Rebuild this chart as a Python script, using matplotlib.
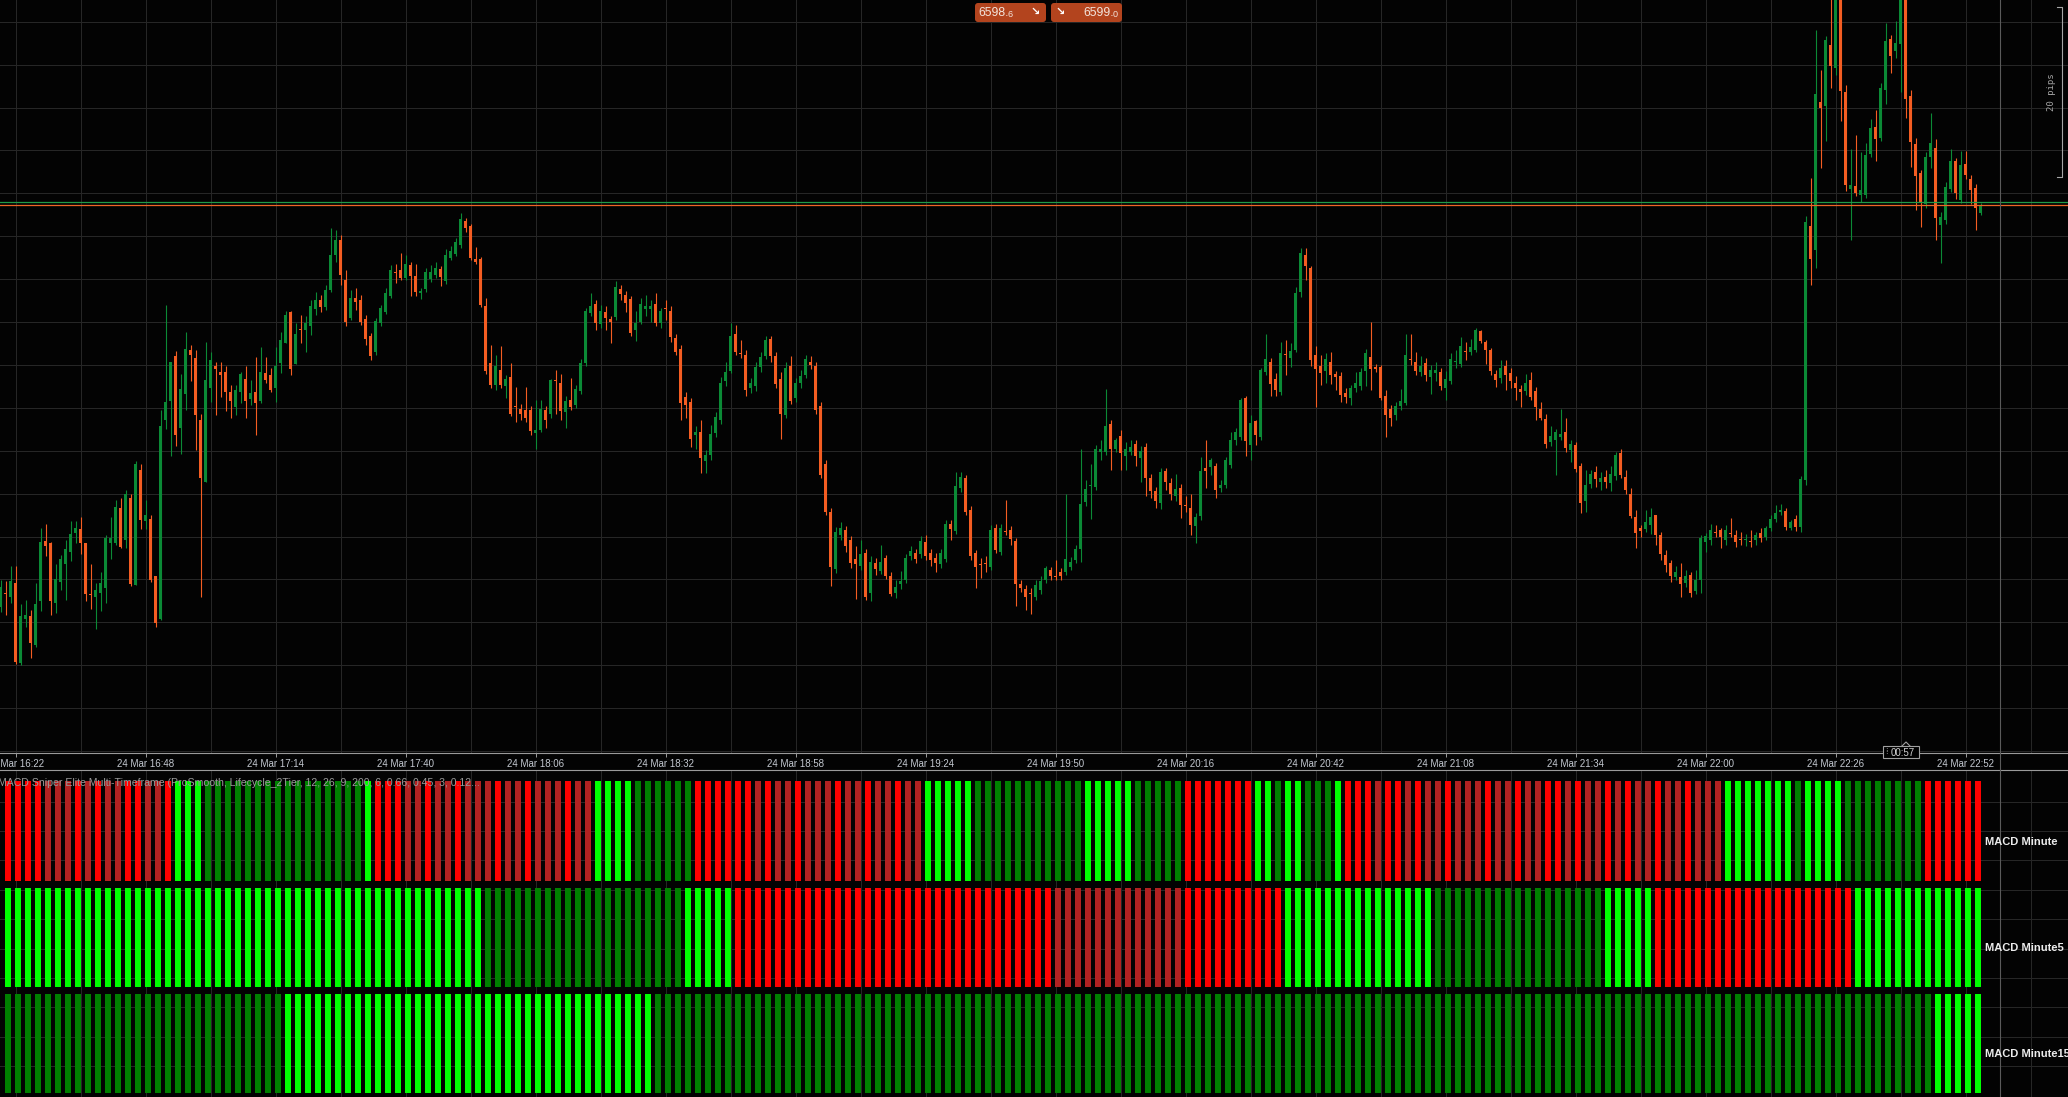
import matplotlib
matplotlib.use("Agg")
import matplotlib.pyplot as plt
from matplotlib.patches import FancyBboxPatch, Rectangle
from matplotlib.ticker import MultipleLocator
import numpy as np

# ---- 1-minute candles, 24 Mar, first candle at 16:19 ----
first_candle = "16:19"
opens = [
    6551.8, 6553.4, 6553.0, 6554.6, 6545.3, 6550.4, 6550.7, 6547.4, 6552.5, 6559.5,
    6559.2, 6552.3, 6554.7, 6556.8, 6558.2, 6560.4, 6560.9, 6559.2, 6553.3, 6553.0,
    6553.4, 6554.0, 6559.2, 6559.2, 6563.3, 6559.6, 6564.5, 6554.4, 6567.8, 6561.8,
    6562.0, 6555.4, 6550.4, 6573.6, 6575.8, 6581.0, 6572.7, 6576.6, 6581.7, 6580.8,
    6573.6, 6566.4, 6577.3, 6579.9, 6579.2, 6579.2, 6576.8, 6575.1, 6576.8, 6578.4,
    6576.0, 6576.8, 6575.8, 6579.1, 6578.8, 6577.3, 6580.2, 6582.6, 6586.2, 6580.1,
    6584.2, 6584.1, 6584.5, 6586.5, 6587.6, 6586.8, 6588.7, 6592.8, 6594.6, 6589.9,
    6585.5, 6587.8, 6587.6, 6585.4, 6583.4, 6581.5, 6584.9, 6586.2, 6588.0, 6590.8,
    6591.1, 6590.1, 6591.6, 6590.4, 6588.4, 6588.9, 6590.0, 6590.5, 6591.2, 6589.8,
    6592.5, 6592.9, 6594.0, 6596.8, 6596.2, 6592.3, 6592.3, 6586.9, 6580.2, 6577.7,
    6579.4, 6577.5, 6578.6, 6575.2, 6574.9, 6574.7, 6574.7, 6572.1, 6572.4, 6574.7,
    6574.3, 6578.2, 6577.9, 6574.5, 6575.9, 6575.3, 6577.0, 6580.2, 6586.1, 6587.1,
    6584.8, 6586.2, 6585.4, 6585.6, 6588.9, 6588.2, 6587.7, 6584.1, 6585.0, 6586.5,
    6586.5, 6587.1, 6584.9, 6586.6, 6586.3, 6583.1, 6581.9, 6576.3, 6575.7, 6571.8,
    6572.2, 6568.8, 6569.5, 6572.1, 6573.6, 6578.1, 6579.3, 6583.6, 6581.4, 6581.2,
    6577.3, 6577.5, 6579.8, 6581.0, 6583.0, 6581.0, 6578.4, 6574.2, 6579.9, 6576.1,
    6577.9, 6578.8, 6580.3, 6579.9, 6575.2, 6568.5, 6562.9, 6556.2, 6560.2, 6560.8,
    6559.6, 6557.4, 6556.6, 6558.1, 6553.4, 6556.9, 6556.0, 6557.5, 6555.4, 6553.4,
    6554.5, 6554.9, 6557.7, 6558.1, 6558.0, 6559.4, 6558.1, 6557.5, 6556.8, 6557.4,
    6561.5, 6560.6, 6565.6, 6566.8, 6563.1, 6558.1, 6556.8, 6556.9, 6556.4, 6561.0,
    6558.2, 6560.6, 6560.8, 6559.5, 6554.5, 6553.9, 6553.4, 6553.0, 6553.8, 6554.9,
    6556.1, 6555.4, 6555.9, 6555.9, 6556.4, 6557.3, 6558.5, 6564.0, 6565.9, 6565.8,
    6569.9, 6569.9, 6573.1, 6570.2, 6571.7, 6569.4, 6569.9, 6570.8, 6569.2, 6570.4,
    6566.8, 6565.3, 6563.9, 6567.6, 6566.2, 6564.7, 6565.6, 6563.6, 6563.3, 6561.2,
    6562.4, 6568.0, 6568.1, 6568.2, 6565.6, 6566.0, 6568.3, 6571.2, 6571.6, 6576.1,
    6570.7, 6573.5, 6571.6, 6579.2, 6580.3, 6578.4, 6576.8, 6581.2, 6580.8, 6581.7,
    6588.5, 6592.8, 6591.3, 6581.2, 6579.9, 6579.3, 6580.3, 6578.9, 6578.7, 6576.7,
    6576.2, 6577.3, 6577.5, 6579.3, 6580.9, 6579.8, 6579.8, 6576.4, 6574.9, 6574.2,
    6575.2, 6575.6, 6580.7, 6580.3, 6579.2, 6580.2, 6578.6, 6579.1, 6579.2, 6577.3,
    6578.1, 6580.3, 6580.1, 6581.6, 6581.5, 6581.7, 6583.9, 6582.7, 6581.7, 6578.9,
    6578.5, 6579.9, 6579.1, 6577.9, 6577.2, 6577.0, 6578.2, 6577.0, 6574.9, 6573.7,
    6571.0, 6571.3, 6571.6, 6572.2, 6570.1, 6570.7, 6568.2, 6564.1, 6566.1, 6567.5,
    6566.4, 6566.9, 6566.2, 6567.0, 6569.7, 6566.9, 6565.0, 6562.3, 6561.0, 6560.9,
    6561.3, 6562.5, 6560.2, 6557.9, 6556.9, 6555.3, 6555.3, 6554.6, 6555.5, 6553.7,
    6554.9, 6559.4, 6559.6, 6560.5, 6560.8, 6559.6, 6560.4, 6560.2, 6559.7, 6559.6,
    6559.5, 6559.6, 6560.4, 6559.9, 6561.0, 6562.0, 6562.9, 6563.0, 6561.0, 6562.0,
    6561.1, 6566.6, 6596.2, 6593.4, 6610.6, 6610.2, 6617.3, 6614.6, 6623.7, 6611.8,
    6600.5, 6600.9, 6599.8, 6599.8, 6604.6, 6607.7, 6606.4, 6612.0, 6618.0, 6616.6,
    6617.4, 6623.5, 6611.3, 6605.7, 6602.4, 6598.8, 6604.2, 6605.3, 6596.3, 6596.9,
    6600.5, 6603.8, 6599.2, 6603.4, 6601.7, 6600.6, 6597.7,
]
highs = [
    6554.9, 6554.8, 6556.6, 6556.6, 6552.1, 6552.6, 6551.4, 6554.6, 6561.0, 6561.5,
    6559.4, 6556.8, 6557.9, 6559.6, 6561.8, 6561.8, 6562.3, 6559.2, 6556.8, 6554.6,
    6555.9, 6560.2, 6562.3, 6564.3, 6564.5, 6565.4, 6565.0, 6568.8, 6568.5, 6564.3,
    6562.5, 6555.4, 6574.7, 6587.0, 6580.3, 6581.6, 6578.9, 6583.8, 6582.3, 6581.7,
    6574.3, 6582.7, 6581.5, 6580.3, 6580.3, 6579.9, 6577.7, 6577.7, 6579.2, 6579.9,
    6578.2, 6580.9, 6582.1, 6580.9, 6579.6, 6582.1, 6583.8, 6586.3, 6586.3, 6584.9,
    6585.8, 6585.7, 6587.6, 6588.5, 6588.2, 6589.3, 6596.0, 6595.7, 6595.1, 6591.1,
    6588.7, 6589.0, 6588.2, 6585.8, 6583.7, 6585.5, 6587.0, 6589.0, 6591.6, 6591.8,
    6593.0, 6592.8, 6592.0, 6591.8, 6589.0, 6591.3, 6591.6, 6592.0, 6591.5, 6593.5,
    6593.9, 6594.8, 6597.7, 6597.1, 6596.4, 6593.7, 6592.6, 6587.8, 6582.3, 6581.2,
    6582.2, 6578.8, 6580.2, 6577.4, 6575.4, 6577.4, 6575.2, 6575.9, 6575.9, 6575.2,
    6578.4, 6579.4, 6578.9, 6576.4, 6578.5, 6577.7, 6580.7, 6586.6, 6588.4, 6587.6,
    6587.0, 6586.9, 6585.7, 6589.8, 6589.3, 6588.6, 6588.0, 6586.3, 6587.8, 6588.2,
    6587.6, 6588.4, 6586.6, 6587.6, 6586.9, 6583.6, 6582.3, 6576.8, 6576.1, 6572.9,
    6573.6, 6570.1, 6573.0, 6574.5, 6578.6, 6580.3, 6584.9, 6584.7, 6582.9, 6581.7,
    6578.5, 6580.3, 6581.5, 6583.4, 6583.4, 6581.5, 6579.2, 6580.3, 6581.0, 6578.5,
    6579.4, 6581.2, 6581.0, 6580.3, 6575.7, 6568.9, 6563.3, 6561.1, 6561.7, 6561.2,
    6560.1, 6558.9, 6559.6, 6558.6, 6557.7, 6557.5, 6559.0, 6557.9, 6555.9, 6554.9,
    6556.0, 6558.0, 6558.9, 6558.6, 6560.1, 6560.2, 6558.6, 6558.1, 6558.6, 6561.9,
    6561.9, 6567.5, 6567.5, 6567.2, 6563.6, 6558.4, 6557.5, 6557.7, 6561.3, 6561.5,
    6561.5, 6564.3, 6561.2, 6559.8, 6554.9, 6554.4, 6554.0, 6554.9, 6555.4, 6556.6,
    6556.5, 6557.3, 6556.3, 6565.0, 6557.6, 6559.0, 6570.2, 6566.6, 6568.5, 6570.7,
    6571.2, 6577.2, 6573.6, 6571.5, 6572.4, 6571.0, 6571.2, 6571.2, 6570.6, 6570.9,
    6567.3, 6565.8, 6568.0, 6568.0, 6566.8, 6567.3, 6566.1, 6564.7, 6564.9, 6562.7,
    6569.3, 6571.2, 6569.2, 6568.6, 6566.6, 6569.3, 6572.2, 6572.7, 6576.1, 6576.4,
    6574.2, 6573.6, 6579.6, 6583.6, 6580.8, 6579.1, 6582.7, 6582.9, 6582.6, 6589.1,
    6593.6, 6593.6, 6591.5, 6582.2, 6581.2, 6581.4, 6581.5, 6579.3, 6579.2, 6577.3,
    6577.7, 6579.2, 6579.6, 6581.9, 6585.0, 6580.1, 6580.0, 6577.1, 6575.3, 6575.7,
    6577.2, 6583.6, 6583.6, 6581.5, 6581.0, 6580.8, 6580.0, 6580.3, 6579.6, 6579.3,
    6581.4, 6581.7, 6583.2, 6582.7, 6583.0, 6584.3, 6584.1, 6582.9, 6582.0, 6579.4,
    6580.6, 6580.6, 6579.6, 6578.7, 6577.7, 6578.9, 6579.2, 6577.4, 6575.7, 6574.3,
    6572.9, 6572.5, 6574.9, 6573.8, 6571.2, 6571.0, 6568.6, 6567.8, 6567.8, 6568.2,
    6567.5, 6567.8, 6568.2, 6569.9, 6570.2, 6567.8, 6565.6, 6563.1, 6561.3, 6563.1,
    6563.3, 6562.5, 6560.5, 6558.4, 6557.3, 6556.6, 6556.9, 6556.1, 6555.9, 6556.1,
    6560.2, 6560.4, 6561.5, 6561.3, 6561.0, 6561.3, 6562.2, 6560.8, 6560.5, 6560.3,
    6560.8, 6560.5, 6561.0, 6561.2, 6562.5, 6563.7, 6563.8, 6563.3, 6561.9, 6562.5,
    6567.0, 6597.4, 6601.8, 6619.0, 6614.4, 6618.3, 6623.5, 6624.9, 6625.4, 6612.6,
    6605.2, 6606.8, 6604.8, 6605.9, 6608.7, 6609.7, 6612.9, 6619.9, 6618.4, 6620.1,
    6624.9, 6624.3, 6612.0, 6606.4, 6602.7, 6604.8, 6609.4, 6606.3, 6597.8, 6601.3,
    6605.2, 6604.1, 6604.9, 6604.9, 6602.1, 6601.1, 6598.9,
]
lows = [
    6551.2, 6550.9, 6552.3, 6545.1, 6545.0, 6549.5, 6545.8, 6547.1, 6551.3, 6557.7,
    6550.9, 6551.1, 6553.8, 6552.6, 6557.2, 6559.2, 6558.0, 6552.5, 6551.6, 6549.2,
    6551.3, 6552.3, 6557.4, 6559.0, 6558.7, 6558.7, 6554.2, 6554.4, 6560.9, 6560.9,
    6554.7, 6549.5, 6550.3, 6572.5, 6569.4, 6570.6, 6569.6, 6574.7, 6578.1, 6570.1,
    6553.0, 6566.4, 6575.7, 6574.2, 6576.3, 6574.6, 6573.8, 6574.2, 6575.6, 6573.8,
    6575.3, 6571.8, 6575.6, 6577.9, 6576.8, 6575.7, 6579.1, 6582.6, 6578.8, 6580.1,
    6582.6, 6581.5, 6583.5, 6585.8, 6586.2, 6586.4, 6588.5, 6592.0, 6589.3, 6584.5,
    6585.2, 6586.4, 6584.7, 6582.3, 6580.6, 6581.2, 6584.5, 6585.9, 6587.8, 6589.6,
    6589.9, 6589.9, 6588.0, 6588.0, 6587.7, 6588.5, 6589.7, 6590.1, 6589.2, 6589.4,
    6592.2, 6592.7, 6593.6, 6595.5, 6592.2, 6591.8, 6586.8, 6578.9, 6577.3, 6577.1,
    6577.3, 6576.1, 6574.0, 6573.4, 6573.6, 6573.4, 6571.8, 6570.2, 6572.2, 6572.7,
    6573.8, 6574.3, 6573.6, 6572.7, 6574.7, 6575.0, 6576.6, 6579.9, 6585.7, 6584.1,
    6584.3, 6584.1, 6582.6, 6585.2, 6587.6, 6586.2, 6583.4, 6582.8, 6584.8, 6585.7,
    6585.0, 6584.5, 6584.3, 6585.2, 6582.7, 6581.2, 6573.6, 6573.8, 6570.4, 6570.2,
    6567.4, 6567.4, 6568.9, 6571.6, 6573.1, 6577.5, 6579.1, 6581.2, 6580.8, 6576.4,
    6576.7, 6577.0, 6579.2, 6580.7, 6580.3, 6577.3, 6571.4, 6573.8, 6575.4, 6575.7,
    6577.3, 6578.5, 6579.5, 6574.3, 6566.8, 6562.5, 6554.2, 6555.8, 6559.6, 6558.2,
    6556.3, 6552.7, 6556.1, 6552.6, 6552.5, 6555.5, 6555.6, 6555.1, 6553.1, 6552.8,
    6553.9, 6554.6, 6557.3, 6556.9, 6557.5, 6557.3, 6556.6, 6555.9, 6556.3, 6557.0,
    6559.6, 6560.3, 6565.2, 6562.5, 6557.3, 6554.0, 6555.2, 6555.9, 6556.1, 6558.1,
    6557.9, 6560.2, 6559.0, 6551.9, 6553.5, 6551.4, 6551.0, 6552.6, 6553.3, 6554.6,
    6554.9, 6554.9, 6554.9, 6555.5, 6556.1, 6556.9, 6557.0, 6563.6, 6562.0, 6565.4,
    6568.9, 6569.5, 6567.8, 6569.9, 6567.8, 6567.8, 6569.5, 6568.2, 6566.4, 6564.7,
    6564.5, 6563.3, 6563.2, 6565.4, 6564.3, 6564.1, 6562.2, 6562.9, 6560.2, 6559.2,
    6561.9, 6565.6, 6567.2, 6564.5, 6565.2, 6565.6, 6568.0, 6570.7, 6571.2, 6569.4,
    6568.9, 6570.7, 6571.2, 6578.8, 6576.4, 6576.4, 6576.5, 6578.8, 6579.8, 6581.5,
    6587.9, 6589.9, 6579.9, 6575.1, 6577.7, 6577.9, 6577.8, 6577.1, 6575.7, 6575.6,
    6575.3, 6576.8, 6577.1, 6577.5, 6577.1, 6579.2, 6575.9, 6571.6, 6572.9, 6573.6,
    6574.7, 6575.3, 6580.0, 6578.8, 6578.7, 6578.1, 6576.6, 6578.1, 6577.1, 6575.9,
    6577.8, 6579.6, 6579.8, 6580.6, 6581.2, 6581.5, 6582.6, 6580.1, 6578.8, 6577.4,
    6577.9, 6577.1, 6577.3, 6575.9, 6575.1, 6576.5, 6575.9, 6573.6, 6573.6, 6570.3,
    6570.6, 6567.2, 6571.2, 6569.9, 6568.7, 6567.5, 6562.7, 6562.9, 6565.6, 6565.8,
    6565.4, 6565.6, 6565.3, 6566.6, 6566.8, 6564.9, 6562.2, 6558.7, 6560.0, 6560.5,
    6560.3, 6559.0, 6557.3, 6555.9, 6554.7, 6554.9, 6553.0, 6554.1, 6553.0, 6553.3,
    6553.4, 6558.2, 6559.0, 6559.9, 6558.7, 6559.0, 6559.9, 6558.8, 6559.0, 6558.9,
    6558.8, 6559.0, 6559.4, 6559.6, 6560.6, 6561.7, 6562.5, 6560.8, 6560.8, 6560.6,
    6560.5, 6566.0, 6589.3, 6591.3, 6603.0, 6606.1, 6612.3, 6613.8, 6608.4, 6600.3,
    6594.6, 6599.7, 6599.0, 6599.4, 6604.2, 6603.8, 6606.1, 6610.4, 6614.0, 6615.8,
    6611.8, 6608.8, 6603.1, 6598.1, 6596.1, 6598.3, 6603.0, 6594.6, 6591.9, 6596.4,
    6600.2, 6599.3, 6598.9, 6601.7, 6598.8, 6595.7, 6597.5,
]
closes = [
    6554.1, 6553.3, 6554.8, 6545.4, 6550.7, 6550.9, 6547.6, 6552.1, 6559.4, 6558.9,
    6552.5, 6555.1, 6557.4, 6558.6, 6560.3, 6561.0, 6559.2, 6553.3, 6553.2, 6553.8,
    6554.6, 6559.8, 6559.8, 6563.4, 6558.8, 6565.0, 6554.5, 6568.5, 6561.9, 6562.5,
    6554.9, 6549.9, 6572.9, 6575.7, 6580.3, 6571.8, 6577.2, 6581.9, 6581.2, 6574.2,
    6566.8, 6578.2, 6580.6, 6579.5, 6578.8, 6576.8, 6575.8, 6577.1, 6578.9, 6575.8,
    6576.7, 6575.6, 6579.2, 6578.2, 6577.1, 6579.9, 6582.9, 6585.8, 6579.5, 6583.6,
    6584.1, 6584.9, 6586.9, 6587.6, 6586.8, 6588.7, 6592.8, 6594.6, 6590.5, 6585.0,
    6587.8, 6587.3, 6585.0, 6583.0, 6581.0, 6585.1, 6586.6, 6588.4, 6591.1, 6590.7,
    6590.1, 6591.8, 6590.4, 6588.5, 6588.6, 6590.8, 6590.8, 6591.3, 6590.2, 6592.8,
    6593.3, 6594.3, 6597.0, 6596.0, 6592.5, 6592.0, 6587.0, 6579.3, 6577.7, 6579.9,
    6577.7, 6578.4, 6574.3, 6575.1, 6574.3, 6573.8, 6572.3, 6572.4, 6574.9, 6573.6,
    6578.2, 6578.1, 6574.6, 6575.8, 6575.1, 6577.2, 6580.2, 6586.3, 6586.9, 6584.9,
    6586.3, 6585.5, 6585.0, 6589.1, 6588.3, 6587.2, 6583.7, 6584.9, 6587.1, 6586.9,
    6586.9, 6584.9, 6586.3, 6586.5, 6583.3, 6581.5, 6575.6, 6575.3, 6571.4, 6572.2,
    6569.2, 6569.5, 6572.0, 6573.9, 6577.9, 6579.2, 6583.4, 6581.5, 6581.3, 6577.1,
    6577.9, 6579.8, 6580.9, 6582.9, 6581.0, 6577.8, 6574.3, 6579.6, 6575.8, 6577.9,
    6578.7, 6580.7, 6580.0, 6574.7, 6567.2, 6562.9, 6556.4, 6560.5, 6561.0, 6558.9,
    6556.9, 6556.8, 6558.0, 6553.0, 6557.0, 6556.2, 6557.0, 6555.4, 6553.3, 6554.1,
    6554.8, 6557.5, 6558.3, 6557.4, 6559.5, 6557.7, 6557.3, 6556.9, 6558.1, 6561.5,
    6560.9, 6565.9, 6566.9, 6562.9, 6557.7, 6556.4, 6556.7, 6556.8, 6560.8, 6558.4,
    6561.0, 6560.5, 6559.7, 6554.5, 6554.0, 6553.0, 6553.3, 6554.4, 6554.8, 6556.3,
    6555.4, 6555.3, 6555.4, 6557.4, 6557.0, 6558.6, 6563.8, 6565.5, 6566.0, 6570.2,
    6570.2, 6572.9, 6570.2, 6571.2, 6569.7, 6570.2, 6570.4, 6569.4, 6570.0, 6566.8,
    6565.3, 6564.1, 6567.5, 6566.4, 6565.0, 6565.5, 6563.7, 6563.5, 6561.3, 6562.3,
    6567.6, 6567.6, 6568.9, 6565.4, 6566.0, 6568.9, 6571.2, 6572.2, 6575.9, 6571.1,
    6573.2, 6571.8, 6579.4, 6580.7, 6577.8, 6577.1, 6581.4, 6581.1, 6581.6, 6588.4,
    6593.0, 6591.5, 6580.6, 6579.5, 6579.1, 6580.7, 6578.8, 6578.6, 6576.5, 6576.3,
    6577.3, 6577.9, 6579.2, 6581.4, 6579.5, 6579.5, 6576.2, 6574.2, 6573.8, 6575.2,
    6575.8, 6581.2, 6580.6, 6579.3, 6579.9, 6578.8, 6579.4, 6579.4, 6577.5, 6578.4,
    6580.7, 6580.4, 6582.2, 6581.5, 6582.1, 6584.1, 6582.8, 6581.7, 6579.3, 6578.2,
    6579.6, 6578.8, 6578.1, 6577.3, 6576.8, 6577.9, 6576.3, 6575.1, 6573.8, 6570.8,
    6571.7, 6572.2, 6571.9, 6570.3, 6570.8, 6567.9, 6563.9, 6566.0, 6567.3, 6566.7,
    6566.8, 6566.4, 6567.3, 6569.5, 6567.2, 6565.4, 6562.4, 6560.4, 6560.6, 6561.7,
    6562.3, 6560.2, 6558.0, 6556.7, 6555.4, 6555.9, 6554.5, 6555.4, 6553.4, 6554.9,
    6559.8, 6560.1, 6560.8, 6560.4, 6559.9, 6560.8, 6560.3, 6559.4, 6559.6, 6559.6,
    6559.4, 6560.2, 6559.8, 6561.0, 6562.0, 6562.7, 6563.1, 6561.1, 6561.7, 6561.1,
    6566.7, 6596.7, 6592.3, 6611.6, 6609.9, 6617.9, 6614.8, 6623.9, 6611.9, 6601.0,
    6601.0, 6600.0, 6600.4, 6604.5, 6607.6, 6606.3, 6612.3, 6617.8, 6616.0, 6617.5,
    6623.5, 6611.0, 6606.0, 6602.0, 6599.0, 6604.2, 6605.9, 6597.1, 6597.2, 6600.7,
    6603.8, 6600.0, 6603.3, 6602.1, 6600.4, 6598.3, 6598.6,
]
bid, ask = 6598.6, 6599.0

tick_labels = [
    "24 Mar 16:22", "24 Mar 16:48", "24 Mar 17:14", "24 Mar 17:40",
    "24 Mar 18:06", "24 Mar 18:32", "24 Mar 18:58", "24 Mar 19:24",
    "24 Mar 19:50", "24 Mar 20:16", "24 Mar 20:42", "24 Mar 21:08",
    "24 Mar 21:34", "24 Mar 22:00", "24 Mar 22:26", "24 Mar 22:52",
]

# ---- MACD multi-timeframe state, one bar per 2 minutes, run-length coded ----
# G strong up, g weak up, R strong down, r weak down
macd_labels = ["MACD Minute", "MACD Minute5", "MACD Minute15"]
macd_minute = [
    ("R", 4), ("r", 3), ("R", 1), ("r", 1), ("R", 1), ("r", 2), ("R", 2), ("r", 2),
    ("R", 1), ("G", 3), ("g", 16), ("G", 1), ("R", 3), ("r", 2), ("R", 1), ("r", 2),
    ("R", 1), ("r", 3), ("R", 1), ("r", 2), ("R", 1), ("r", 3), ("R", 1), ("r", 2),
    ("G", 4), ("g", 6), ("R", 6), ("r", 1), ("R", 1), ("r", 2), ("R", 1), ("r", 3),
    ("R", 1), ("r", 2), ("R", 1), ("r", 2), ("R", 1), ("r", 2), ("G", 5), ("g", 11),
    ("G", 5), ("g", 5), ("R", 7), ("G", 2), ("g", 1), ("G", 2), ("g", 3), ("G", 1),
    ("R", 3), ("r", 1), ("R", 2), ("r", 1), ("R", 1), ("r", 2), ("R", 1), ("r", 3),
    ("R", 1), ("r", 2), ("R", 1), ("r", 2), ("R", 2), ("r", 1), ("R", 1), ("r", 2),
    ("R", 1), ("r", 1), ("R", 1), ("r", 2), ("R", 1), ("r", 2), ("R", 1), ("r", 3),
    ("G", 7), ("g", 1), ("G", 4), ("g", 8), ("R", 6),
]
macd_minute5 = [
    ("G", 48), ("g", 20), ("G", 5), ("R", 32), ("r", 13), ("R", 10), ("G", 15),
    ("g", 17), ("G", 5), ("R", 20), ("G", 13),
]
macd_minute15 = [("g", 28), ("G", 37), ("g", 128), ("G", 5)]

# ---- style ----
BG = "#030303"
GRID = "#262626"
UP, DOWN = "#0b8a36", "#f45d22"
STATE_COLORS = {"G": "#00ff00", "g": "#008000", "R": "#ff0000", "r": "#b22222"}
W, H = 2068, 1097
plt.rcParams["font.family"] = ["Liberation Sans", "DejaVu Sans"]

fig = plt.figure(figsize=(W / 100, H / 100), dpi=100, facecolor=BG)
main_bottom, band_bottom = 753, 770
ax = fig.add_axes([0, 1 - main_bottom / H, 1, main_bottom / H], facecolor=BG)
axb = fig.add_axes([0, 0, 1, 1 - band_bottom / H], facecolor=BG)

h0, m0 = map(int, first_candle.split(":"))
tick_pos = [int(t[-5:-3]) * 60 + int(t[-2:]) - (h0 * 60 + m0) for t in tick_labels]
xlim = (-0.12, 413.48)

# candles
o, hi, lo, c = map(np.array, (opens, highs, lows, closes))
idx = np.arange(len(c))
col = np.where(c >= o, UP, DOWN)
ax.vlines(idx, lo, hi, colors=col, lw=0.8, zorder=3)
ax.bar(idx, np.maximum(np.abs(c - o), 0.12), bottom=np.minimum(o, c), width=0.66,
       color=col, linewidth=0, zorder=3)
ax.axhline(ask, color="#1f9a48", lw=0.9, zorder=4)
ax.axhline(bid, color="#ee6526", lw=0.9, zorder=4)

ax.set_xlim(*xlim)
ax.set_ylim(6534.77, 6622.53)
ax.set_yticks(np.arange(6535, 6621, 5))
ax.set_xticks(tick_pos)
ax.set_xticklabels(tick_labels)
ax.xaxis.set_minor_locator(MultipleLocator(13, offset=3))
ax.grid(True, which="both", color=GRID, lw=0.75, zorder=0)
ax.tick_params(axis="y", left=False, labelleft=False)
ax.tick_params(axis="x", which="major", direction="out", length=3, width=0.7,
               color="#9a9a9a", labelsize=7, labelcolor="#c3c8d0", pad=1.5)
ax.tick_params(axis="x", which="minor", length=0)
for s in ("top", "left", "right"):
    ax.spines[s].set_visible(False)
ax.spines["bottom"].set_color("#9a9a9a")
ax.spines["bottom"].set_linewidth(0.8)

# MACD state panel
bar_x = 1.48 + 2 * np.arange(198)
for r, runs in enumerate([macd_minute, macd_minute5, macd_minute15]):
    codes = [code for code, n in runs for _ in range(n)]
    axb.bar(bar_x[:len(codes)], 0.935, bottom=r, width=1.2,
            color=[STATE_COLORS[k] for k in codes], linewidth=0, zorder=3)
axb.set_xlim(*xlim)
axb.set_ylim(2.971, -0.108)
axb.xaxis.set_major_locator(MultipleLocator(13, offset=3))
axb.set_yticks(0.19 + 0.2768 * np.arange(10))
axb.grid(True, color=GRID, lw=0.75, zorder=0)
axb.tick_params(left=False, bottom=False, labelleft=False, labelbottom=False)
for s in ("bottom", "left", "right"):
    axb.spines[s].set_visible(False)
axb.spines["top"].set_color("#9a9a9a")
axb.spines["top"].set_linewidth(0.8)

# overlay in pixel coordinates for the chrome
ov = fig.add_axes([0, 0, 1, 1])
ov.set_xlim(0, W)
ov.set_ylim(H, 0)
ov.axis("off")
ov.patch.set_visible(False)

ov.plot([2000, 2000], [0, H], color="#5a5a5a", lw=0.8)
ov.text(-2, 783, "MACD Sniper Elite Multi-Timeframe (ProSmooth, Lifecycle_2Tier, 12, 26, 9, "
        "200, 6, 0.66, 0.45, 3, 0.12...", color="#9a9a9a", fontsize=7.6, va="center", ha="left")
for label, yy in zip(macd_labels, [842, 948, 1054]):
    ov.text(1985, yy, label, color="#ececec", fontsize=8, fontweight="bold",
            va="center", ha="left")

# 20 pips ruler
ov.plot([2057, 2062, 2062, 2057], [7, 7, 177, 177], color="#a5a5a5", lw=0.8)
ov.text(2052, 92, "20 pips", rotation=90, color="#a5a5a5", fontsize=6.5,
        family="DejaVu Sans Mono", va="center", ha="center")

# bid / ask boxes
for x0, big, small, arrow_x, text_x in [(975, "6598.", "6", 1035, 978),
                                        (1051, "6599.", "0", 1060, 1083)]:
    ov.add_patch(FancyBboxPatch((x0, 3), 71, 19, boxstyle="round,pad=0,rounding_size=3",
                                fc="#b3441e", ec="none"))
    ov.text(text_x, 13, big, color="#f3e4dc", fontsize=8.8, va="center", ha="left")
    ov.text(text_x + 30, 14.5, small, color="#f3e4dc", fontsize=6.5, va="center", ha="left")
    ov.text(arrow_x, 12, "\u2198", color="#ffffff", fontsize=8, va="center", ha="center",
            family="DejaVu Sans", fontweight="bold")

# countdown box
ov.add_patch(Rectangle((1883, 746), 36, 12, fc="black", ec="#a0a0a0", lw=0.8))
ov.text(1903, 752.5, "00:57", color="#cfcfcf", fontsize=7, va="center", ha="center")
ov.text(1886, 752, "\u205e", color="#bdbdbd", fontsize=6, va="center", ha="center",
        family="DejaVu Sans")
ov.plot([1902, 1906, 1910], [746, 742, 746], color="#a0a0a0", lw=0.8)

fig.savefig("out.png", dpi=100, facecolor=BG)
